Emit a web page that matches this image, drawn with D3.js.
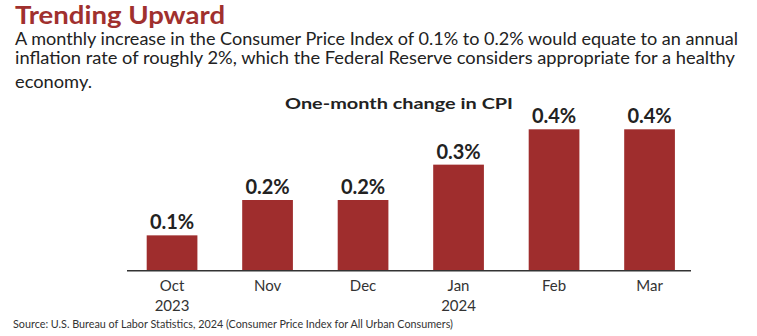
<!DOCTYPE html>
<html lang="en">
<head>
<meta charset="utf-8">
<title>Trending Upward</title>
<script src="https://cdn.jsdelivr.net/npm/d3@7"></script>
<style>
  body { margin: 0; background: #fff; }
  svg { display: block; font-family: Lato, "Open Sans", sans-serif; }
</style>
</head>
<body>
<div id="chart"></div>
<script>
// data
var months = ["Oct", "Nov", "Dec", "Jan", "Feb", "Mar"];
var years = ["2023", "", "", "2024", "", ""];
var cpiChange = [0.1, 0.2, 0.2, 0.3, 0.4, 0.4];
var valueLabels = ["0.1%", "0.2%", "0.2%", "0.3%", "0.4%", "0.4%"];

var w = 757, h = 336;
var barColor = "#9f2d2d";

var svg = d3.select("#chart").append("svg")
  .attr("width", w)
  .attr("height", h);

// title + intro text
svg.append("text")
  .attr("x", 15).attr("y", 24)
  .attr("font-size", 24).attr("font-weight", 700)
  .attr("fill", "#a0302e")
  .attr("textLength", 210)
  .attr("lengthAdjust", "spacingAndGlyphs")
  .text("Trending Upward");

var intro = [
  {t: "A monthly increase in the Consumer Price Index of 0.1% to 0.2% would equate to an annual", y: 45, len: 723},
  {t: "inflation rate of roughly 2%, which the Federal Reserve considers appropriate for a healthy", y: 64, len: 720},
  {t: "economy.", y: 88, len: 77}
];
svg.selectAll("text.intro")
  .data(intro)
  .enter().append("text")
  .attr("class", "intro")
  .attr("x", 15)
  .attr("y", function(d) { return d.y; })
  .attr("font-size", 16.5)
  .attr("fill", "#222")
  .attr("textLength", function(d) { return d.len; })
  .attr("lengthAdjust", "spacingAndGlyphs")
  .text(function(d) { return d.t; });

svg.append("text")
  .attr("x", 285).attr("y", 109)
  .attr("font-size", 15).attr("font-weight", 700)
  .attr("fill", "#222")
  .attr("textLength", 228)
  .attr("lengthAdjust", "spacingAndGlyphs")
  .text("One-month change in CPI");

// scales
var x = d3.scaleBand()
  .domain(months)
  .range([124.3, 697.3])
  .paddingInner(0.469)
  .paddingOuter(0.2345);

var y = d3.scaleLinear()
  .domain([0, 0.4])
  .range([270.7, 129.3]);

// bars
svg.selectAll("rect.bar")
  .data(cpiChange)
  .enter().append("rect")
  .attr("class", "bar")
  .attr("x", function(d, i) { return x(months[i]); })
  .attr("y", function(d) { return y(d); })
  .attr("width", x.bandwidth())
  .attr("height", function(d) { return y(0) - y(d); })
  .attr("fill", barColor);

// value labels
svg.selectAll("text.val")
  .data(cpiChange)
  .enter().append("text")
  .attr("class", "val")
  .attr("x", function(d, i) { return x(months[i]) + x.bandwidth() / 2; })
  .attr("y", function(d) { return y(d) - 6; })
  .attr("text-anchor", "middle")
  .attr("font-size", 20).attr("font-weight", 700)
  .attr("fill", "#222")
  .text(function(d, i) { return valueLabels[i]; });

// baseline
svg.append("line")
  .attr("x1", 127).attr("x2", 691)
  .attr("y1", y(0)).attr("y2", y(0))
  .attr("stroke", "#333")
  .attr("stroke-width", 1.5);

// month / year labels
var cat = svg.selectAll("g.cat")
  .data(months)
  .enter().append("g")
  .attr("class", "cat")
  .attr("transform", function(d) { return "translate(" + (x(d) + x.bandwidth() / 2) + ",0)"; });

cat.append("text")
  .attr("y", 291)
  .attr("text-anchor", "middle")
  .attr("font-size", 15)
  .attr("fill", "#333")
  .text(function(d) { return d; });

cat.append("text")
  .attr("y", 311)
  .attr("text-anchor", "middle")
  .attr("font-size", 15)
  .attr("fill", "#333")
  .text(function(d, i) { return years[i]; });

// source
svg.append("text")
  .attr("x", 13).attr("y", 328)
  .attr("font-size", 10.5)
  .attr("fill", "#333")
  .attr("textLength", 440)
  .attr("lengthAdjust", "spacingAndGlyphs")
  .text("Source: U.S. Bureau of Labor Statistics, 2024 (Consumer Price Index for All Urban Consumers)");
</script>
</body>
</html>
